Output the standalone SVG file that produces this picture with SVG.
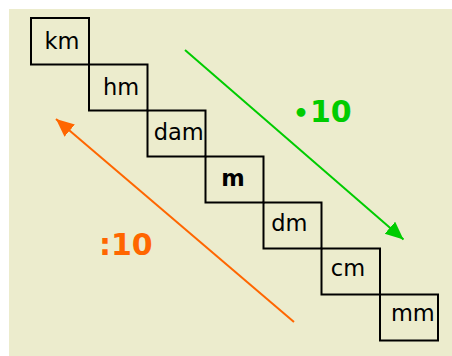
<svg xmlns="http://www.w3.org/2000/svg" width="452" height="356" viewBox="0 0 452 356">
<style>
.box{fill:none;stroke:#000;stroke-width:2}
.lbl{font-family:"DejaVu Sans",Verdana,sans-serif;font-size:22.5px;fill:#000}
.big{font-family:"DejaVu Sans",Verdana,sans-serif;font-size:30px;font-weight:bold}
</style>
<defs>
<marker id="ag" markerUnits="userSpaceOnUse" markerWidth="20" markerHeight="18" refX="18" refY="8" orient="auto"><path d="M0,0 L18,8 L0,16 Z" fill="#00cc00"/></marker>
<marker id="ao" markerUnits="userSpaceOnUse" markerWidth="20" markerHeight="18" refX="18" refY="8" orient="auto"><path d="M0,0 L18,8 L0,16 Z" fill="#ff6600"/></marker>
</defs>
<rect x="9" y="9" width="443" height="347" fill="#ececcd"/>
<g id="km"><rect class="box" x="31" y="18" width="58" height="46.5"/><text class="lbl" x="62" y="49" text-anchor="middle">km</text></g>
<g id="hm"><rect class="box" x="89" y="64.5" width="58.5" height="46"/><text class="lbl" x="121" y="95" text-anchor="middle">hm</text></g>
<g id="dam"><rect class="box" x="147.5" y="110.5" width="58" height="46"/><text class="lbl" x="178.7" y="140" text-anchor="middle">dam</text></g>
<g id="m"><rect class="box" x="205.5" y="156.5" width="58" height="46"/><text class="lbl" x="233" y="185.7" text-anchor="middle" font-weight="bold">m</text></g>
<g id="dm"><rect class="box" x="263.5" y="202.5" width="58" height="46"/><text class="lbl" x="289.3" y="231.3" text-anchor="middle">dm</text></g>
<g id="cm"><rect class="box" x="321.5" y="248.5" width="58.5" height="46"/><text class="lbl" x="348" y="276.3" text-anchor="middle">cm</text></g>
<g id="mm"><rect class="box" x="380" y="294.5" width="58" height="46"/><text class="lbl" x="412.8" y="321.3" text-anchor="middle">mm</text></g>
<g id="connectors">
<line x1="185" y1="50" x2="403.5" y2="239.5" stroke="#00cc00" stroke-width="2" marker-end="url(#ag)"/>
<line x1="294" y1="322" x2="56" y2="119" stroke="#ff6600" stroke-width="2" marker-end="url(#ao)"/>
</g>
<text class="big" x="293" y="121.7" fill="#00cc00"><tspan font-size="25">•</tspan><tspan x="310">10</tspan></text>
<text class="big" x="99" y="255.3" fill="#ff6600">:10</text>
</svg>
